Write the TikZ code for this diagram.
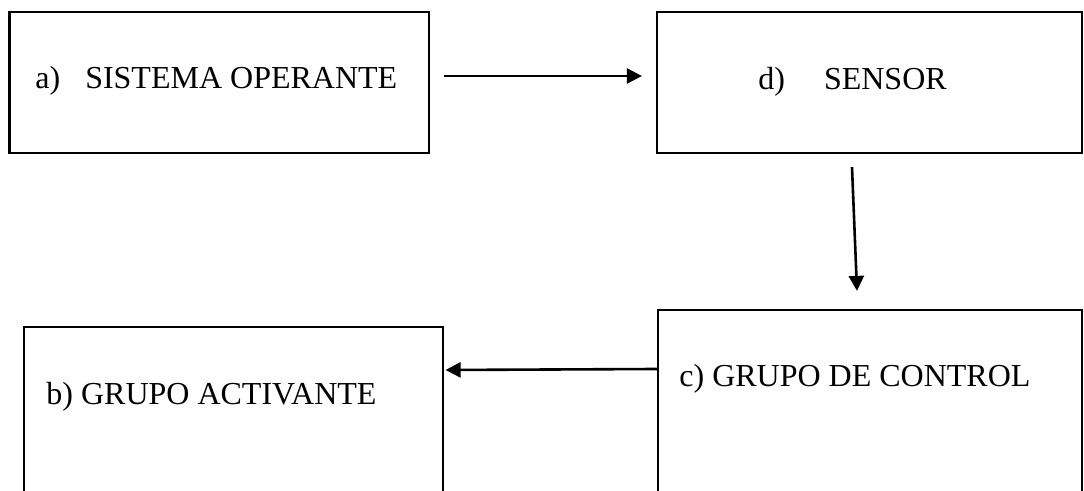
\documentclass[tikz,border=0pt]{standalone}
\usepackage{fontspec}
\setmainfont{Liberation Serif}
\usetikzlibrary{arrows.meta}
\begin{document}
\begin{tikzpicture}[x=0.5pt,y=-0.5pt,
  box/.style={draw,line width=1.1pt,inner sep=0pt},
  lbl/.style={anchor=base west,inner sep=0pt,font=\fontsize{16}{19}\selectfont},
  arr/.style={line width=1.3pt,-{Triangle[length=7.5pt,width=7.5pt]}}]
  \useasboundingbox[fill=white] (0,0) rectangle (1084,491);
  \clip (0,0) rectangle (1084,491);

  % blocks
  \node[box,minimum width=209.75pt,minimum height=70.5pt] (a) at (219.25,82.4) {};
  \node[box,minimum width=212.5pt,minimum height=70.5pt] (d) at (869.5,82.5) {};
  \node[box,minimum width=209.5pt,minimum height=91.5pt] (b) at (233.5,418.5) {};
  \node[box,minimum width=212pt,minimum height=100pt] (c) at (870,410) {};

  % block labels
  \node[lbl] (ta) at (35,88.3) {a)\hspace{12.5pt}SISTEMA OPERANTE};
  \node[lbl] (td) at (758,89.3) {d)\hspace{19.5pt}SENSOR};
  \node[lbl] (tb) at (46,405) {b) GRUPO ACTIVANTE};
  \node[lbl] (tc) at (679,386.7) {c) GRUPO DE CONTROL};

  % signal flow
  \draw[arr] ([shift={(14,-6.4)}]a.east) -- ([shift={(-14,-6.5)}]d.west);
  \draw[arr] ([shift={(-17.5,13)}]d.south) -- ([shift={(-13,-18)}]c.north);
  \draw[arr] ([shift={(0,-41)}]c.west) -- ([shift={(1.5,-48.5)}]b.east);
\end{tikzpicture}
\end{document}
